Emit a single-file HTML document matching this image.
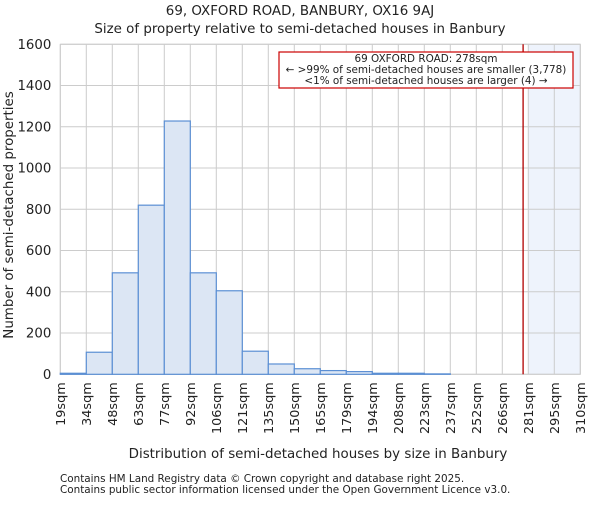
<!DOCTYPE html>
<html><head><meta charset="utf-8"><style>
body{margin:0;background:#fff;}
svg text{font-family:"DejaVu Sans","Liberation Sans",sans-serif;fill:#222;}
</style></head><body>
<svg id="chart" width="600" height="500" viewBox="0 0 600 500" xmlns="http://www.w3.org/2000/svg">
<text x="300" y="15" font-size="13.4" text-anchor="middle">69, OXFORD ROAD, BANBURY, OX16 9AJ</text>
<text x="300" y="33" font-size="13.4" text-anchor="middle">Size of property relative to semi-detached houses in Banbury</text>
<g id="grid"></g><g id="bars"></g><g id="ticks"></g>
<text transform="translate(13,215) rotate(-90)" font-size="13.4" text-anchor="middle">Number of semi-detached properties</text>
<text x="318" y="458" font-size="13.4" text-anchor="middle">Distribution of semi-detached houses by size in Banbury</text>
<text x="60" y="482" font-size="10.4">Contains HM Land Registry data © Crown copyright and database right 2025.</text>
<text x="60" y="493" font-size="10.4">Contains public sector information licensed under the Open Government Licence v3.0.</text>
</svg>
<script>
const binLabels=["19sqm","34sqm","48sqm","63sqm","77sqm","92sqm","106sqm","121sqm","135sqm","150sqm","165sqm","179sqm","194sqm","208sqm","223sqm","237sqm","252sqm","266sqm","281sqm","295sqm","310sqm"];
const counts=[5,107,492,820,1228,492,405,112,50,27,18,13,5,5,2,0,0,0,0,0];
const yTicks=[0,200,400,600,800,1000,1200,1400,1600];
const markerBin=17.8;
const highlightStartBin=18;
const NS="http://www.w3.org/2000/svg";
const L=60.3,R=580.3,T=44.3,B=374.3,yMax=1600;
const nb=counts.length;
const xs=i=>L+(R-L)*i/nb;
const ys=v=>B-(B-T)*v/yMax;
function mk(tag,attrs,parent){const e=document.createElementNS(NS,tag);for(const k in attrs)e.setAttribute(k,attrs[k]);document.getElementById(parent).appendChild(e);return e;}
const hl=mk('rect',{x:xs(highlightStartBin),y:T,width:R-xs(highlightStartBin),height:B-T,fill:'#eef3fc'},'grid');


yTicks.forEach(t=>{
 const g=mk('line',{x1:L,x2:R,y1:ys(t),y2:ys(t),stroke:'#cccccc','stroke-width':1},'grid');
 
 
 const tx=mk('text',{x:L-9,y:ys(t)+4.5,'font-size':13.3,'text-anchor':'end'},'ticks');
 tx.textContent=t;
 
 
});
binLabels.forEach((lb,i)=>{
 const g=mk('line',{x1:xs(i),x2:xs(i),y1:T,y2:B,stroke:'#cccccc','stroke-width':1},'grid');
 
 
 const tx=mk('text',{transform:`translate(${xs(i)+4.5},${B+8}) rotate(-90)`,'font-size':12.8,'text-anchor':'end'},'ticks');
 tx.textContent=lb;
 
 
});
const frame=mk('rect',{x:L,y:T,width:R-L,height:B-T,fill:'none',stroke:'#cccccc','stroke-width':1},'grid');


counts.forEach((c,i)=>{
 if(c<=0)return;
 const b=mk('rect',{x:xs(i),y:ys(c),width:xs(i+1)-xs(i),height:B-ys(c),fill:'#dce6f4',stroke:'#5b8fd4','stroke-width':1.2},'bars');
 
 
});
const mx=xs(markerBin);
const ml=mk('line',{x1:mx,x2:mx,y1:T,y2:B,stroke:'#b00000','stroke-width':1.3},'bars');


const box=mk('rect',{x:279,y:52,width:294,height:36,fill:'#fff',stroke:'#cc0000','stroke-width':1.2},'bars');


["69 OXFORD ROAD: 278sqm","← >99% of semi-detached houses are smaller (3,778)","<1% of semi-detached houses are larger (4) →"].forEach((s,i)=>{
 const t=mk('text',{x:426,y:62+i*11,'font-size':10.4,'text-anchor':'middle'},'bars');
 t.textContent=s;
 
 
});
</script>
</body></html>
